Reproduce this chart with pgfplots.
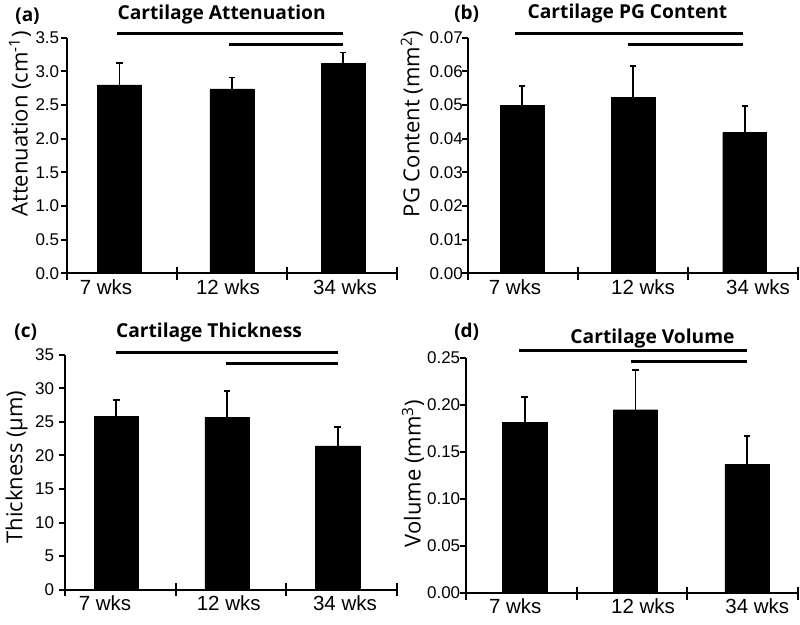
\documentclass[border=0pt]{standalone}
\usepackage{fontspec}
\setmainfont{Liberation Sans}
\newfontfamily\osans{Open Sans}
\usepackage{pgfplots}
\pgfplotsset{compat=1.18}
\pgfplotsset{
  panel/.style={
    scale only axis,
    xmin=0, xmax=3, ymin=0,
    axis x line*=bottom, axis y line*=left,
    axis line style={-, line width=2pt, black},
    clip=false,
    major tick length=0pt,
    tick style={line width=2pt, black},
    xticklabels={7 wks,12 wks,34 wks},
    extra x ticks={0,1,2,3},
    extra x tick labels={},
    extra x tick style={major tick length=13pt, tick align=center},
    extra y tick labels={},
    extra y tick style={major tick length=6pt, tick align=outside},
    scaled y ticks=false,
    x tick label style={font=\fontsize{20.5}{24}\selectfont, anchor=north, yshift=-2.5pt},
    y tick label style={font=\fontsize{17}{20}\selectfont, anchor=east},
    /pgf/number format/assume math mode=true,
  },
  sig/.style={sharp plot, no marks, line width=2.6pt, black},
  errs/.style={error bars/.cd, y dir=plus, y explicit,
    error bar style={line width=1.8pt, black},
    error mark options={rotate=90, line width=1.8pt, mark size=3.2pt, black}},
}
\begin{document}
\begin{tikzpicture}
% (a)
\begin{axis}[panel, at={(66.7pt,-273.3pt)}, anchor=south west, width=330.3pt, height=235.6pt,
  ymax=3.5, ytick={0,0.5,1,1.5,2,2.5,3,3.5}, extra y ticks={0,0.5,1,1.5,2,2.5,3,3.5},
  xtick={0.357,1.465,2.528},
  y tick label style={xshift=-4pt, /pgf/number format/.cd, fixed, fixed zerofill, precision=1}]
\addplot[ybar, bar width=0.4, fill=black, draw=black, errs] coordinates {
  (0.48,2.80) +- (0,0.32)
  (1.50,2.74) +- (0,0.17)
  (2.51,3.12) +- (0,0.16)};
\addplot[sig] coordinates {(0.454,3.566) (2.512,3.566)};
\addplot[sig] coordinates {(1.471,3.40) (2.512,3.40)};
\end{axis}
% (b)
\begin{axis}[panel, at={(468.3pt,-273.3pt)}, anchor=south west, width=329.7pt, height=235.6pt,
  ymax=0.07, ytick={0,0.01,0.02,0.03,0.04,0.05,0.06,0.07}, extra y ticks={0,0.01,0.02,0.03,0.04,0.05,0.06,0.07},
  xtick={0.425,1.59,2.636},
  y tick label style={xshift=-2pt, /pgf/number format/.cd, fixed, fixed zerofill, precision=2}]
\addplot[ybar, bar width=0.4, fill=black, draw=black, errs] coordinates {
  (0.489,0.0498) +- (0,0.0059)
  (1.501,0.0522) +- (0,0.0094)
  (2.515,0.0418) +- (0,0.0079)};
\addplot[sig] coordinates {(0.425,0.0713) (2.502,0.0713)};
\addplot[sig] coordinates {(1.450,0.0680) (2.502,0.0680)};
\end{axis}
% (c)
\begin{axis}[panel, at={(65pt,-589.7pt)}, anchor=south west, width=331.7pt, height=235pt,
  ymax=35, ytick={0,5,10,15,20,25,30,35}, extra y ticks={0,5,10,15,20,25,30,35},
  xtick={0.362,1.481,2.532},
  y tick label style={xshift=-7.5pt}]
\addplot[ybar, bar width=0.4, fill=black, draw=black, errs] coordinates {
  (0.464,25.86) +- (0,2.44)
  (1.465,25.66) +- (0,3.89)
  (2.466,21.43) +- (0,2.77)};
\addplot[sig] coordinates {(0.458,35.3) (2.466,35.3)};
\addplot[sig] coordinates {(1.456,33.7) (2.466,33.7)};
\end{axis}
% (d)
\begin{axis}[panel, at={(465.7pt,-593pt)}, anchor=south west, width=332.6pt, height=235pt,
  ymax=0.25, ytick={0,0.05,0.1,0.15,0.2,0.25}, extra y ticks={0,0.05,0.1,0.15,0.2,0.25},
  xtick={0.447,1.60,2.63},
  y tick label style={xshift=-2pt, /pgf/number format/.cd, fixed, fixed zerofill, precision=2}]
\addplot[ybar, bar width=0.4, fill=black, draw=black, errs] coordinates {
  (0.532,0.1819) +- (0,0.0266)
  (1.531,0.1950) +- (0,0.0426)
  (2.537,0.1369) +- (0,0.0298)};
\addplot[sig] coordinates {(0.481,0.2582) (2.534,0.2582)};
\addplot[sig] coordinates {(1.491,0.2465) (2.534,0.2465)};
\end{axis}
% titles and panel letters
\begin{scope}[every node/.style={inner sep=0pt}]
\node[anchor=base, font=\osans\bfseries\fontsize{19.2}{22}\selectfont] at (221.7pt,-19pt) {Cartilage Attenuation};
\node[anchor=base, font=\osans\bfseries\fontsize{19.2}{22}\selectfont] at (627.5pt,-18.3pt) {Cartilage PG Content};
\node[anchor=base, font=\osans\bfseries\fontsize{19.2}{22}\selectfont] at (209pt,-337pt) {Cartilage Thickness};
\node[anchor=base, font=\osans\bfseries\fontsize{19.2}{22}\selectfont] at (652.5pt,-343.7pt) {Cartilage Volume};
\node[font=\osans\bfseries\fontsize{19}{22}\selectfont] at (27.5pt,-16.7pt) {(a)};
\node[font=\osans\bfseries\fontsize{19}{22}\selectfont] at (466.7pt,-13.3pt) {(b)};
\node[font=\osans\bfseries\fontsize{19}{22}\selectfont] at (25.8pt,-332pt) {(c)};
\node[font=\osans\bfseries\fontsize{19}{22}\selectfont] at (466.7pt,-332pt) {(d)};
\node[rotate=90, font=\osans\fontsize{22}{26}\selectfont] at (20pt,-124pt) {Attenuation (cm\textsuperscript{-1})};
\node[rotate=90, font=\osans\fontsize{22}{26}\selectfont] at (411.7pt,-124pt) {PG Content (mm\textsuperscript{2})};
\node[rotate=90, font=\osans\fontsize{22}{26}\selectfont] at (16.7pt,-467pt) {Thickness (µm)};
\node[rotate=90, font=\osans\fontsize{22}{26}\selectfont] at (413pt,-473.7pt) {Volume (mm\textsuperscript{3})};
\end{scope}
\pgfresetboundingbox
\path[use as bounding box] (0pt,0pt) rectangle (800pt,-624pt);
\end{tikzpicture}
\end{document}
